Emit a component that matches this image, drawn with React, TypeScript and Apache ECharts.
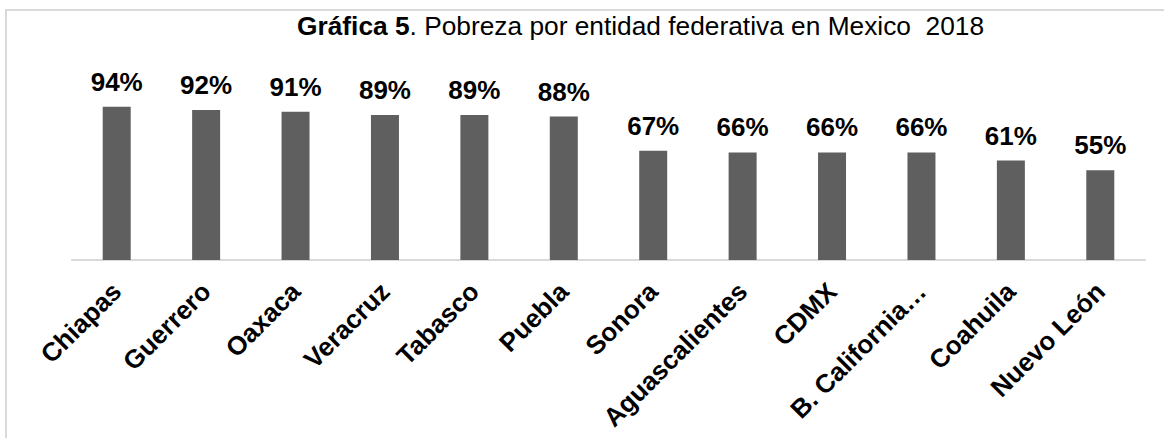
import React, { useEffect, useRef } from "react";
import * as echarts from "echarts";

const categories = [
  "Chiapas",
  "Guerrero",
  "Oaxaca",
  "Veracruz",
  "Tabasco",
  "Puebla",
  "Sonora",
  "Aguascalientes",
  "CDMX",
  "B. California…",
  "Coahuila",
  "Nuevo León",
];
const pobreza = [94, 92, 91, 89, 89, 88, 67, 66, 66, 66, 61, 55];
const titleBold = "Gráfica 5";
const titleRest = ". Pobreza por entidad federativa en Mexico  2018";

export default function App() {
  const ref = useRef<HTMLDivElement>(null);
  useEffect(() => {
    document.body.style.margin = "0";
    const chart = echarts.init(ref.current!, null, { renderer: "svg" });
    chart.setOption({
      animation: false,
      backgroundColor: "#ffffff",
      textStyle: { fontFamily: "Liberation Sans, Arial, sans-serif" },
      title: {
        text: `{b|${titleBold}}{r|${titleRest}}`,
        left: 297,
        top: 13,
        padding: 0,
        textStyle: {
          rich: {
            b: { fontSize: 26.3, fontWeight: "bold", color: "#000", fontFamily: "Liberation Sans" },
            r: { fontSize: 26.3, fontWeight: "normal", color: "#000", fontFamily: "Liberation Sans" },
          },
        },
      },
      graphic: [
        {
          type: "rect",
          shape: { x: 6, y: 10, width: 1300, height: 600 },
          style: { fill: "none", stroke: "#d9d9d9", lineWidth: 2 },
          silent: true,
        },
      ],
      grid: { left: 72, right: 19, top: 97, bottom: 178, containLabel: false },
      xAxis: {
        type: "category",
        data: categories,
        axisLine: { show: true, lineStyle: { color: "#d9d9d9", width: 2 } },
        axisTick: { show: false },
        axisLabel: {
          rotate: 45,
          interval: 0,
          margin: 27,
          fontSize: 26,
          fontWeight: "bold",
          color: "#000",
          fontFamily: "Liberation Sans",
        },
      },
      yAxis: {
        type: "value",
        min: 0,
        max: 100,
        show: false,
        splitLine: { show: false },
      },
      series: [
        {
          type: "bar",
          data: pobreza,
          barWidth: 28,
          itemStyle: { color: "#5f5f5f" },
          label: {
            show: true,
            position: "top",
            distance: 12,
            formatter: "{c}%",
            fontSize: 26,
            fontWeight: "bold",
            color: "#000",
            fontFamily: "Liberation Sans",
          },
        },
      ],
    });
    return () => chart.dispose();
  }, []);
  return (
    <div
      ref={ref}
      style={{ position: "absolute", left: 0, top: 0, width: 1164, height: 438 }}
    />
  );
}
